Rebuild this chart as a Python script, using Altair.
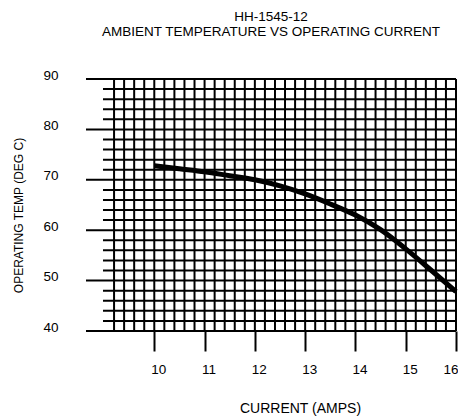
import altair as alt
import pandas as pd

# Curve data
amps = [10.0, 10.5, 11.0, 11.5, 12.0, 12.5, 13.0, 13.5, 14.0, 14.5, 15.0, 15.5, 16.0]
temps = [72.8, 72.2, 71.6, 70.8, 70.0, 68.8, 67.2, 65.2, 63.0, 60.1, 56.3, 52.1, 47.8]

# Axis ticks
x_ticks = [10, 11, 12, 13, 14, 15, 16]
y_ticks = [40, 50, 60, 70, 80, 90]

# Grid
v_grid = [round(9.2 + 0.2 * i, 2) for i in range(35)]   # 9.2 .. 16.0
h_minor = [v for v in range(42, 90, 2) if v % 10 != 0]
X_MIN, X_MAX = 8.642, 16.0
MINOR_START = 8.98
Y_MIN, Y_MAX = 40, 90

FONT = "Liberation Sans"

xs = alt.Scale(domain=[X_MIN, X_MAX], nice=False, zero=False)
ys = alt.Scale(domain=[Y_MIN, Y_MAX], nice=False, zero=False)

x_axis = alt.Axis(values=x_ticks, tickSize=20, tickWidth=2, tickColor="black",
                  domain=False, grid=False, labelPadding=11,
                  labelOffset=alt.expr("datum.value >= 16 ? 2 : 4"),
                  labelAlign=alt.expr("datum.value >= 16 ? 'right' : 'center'"),
                  labelFont=FONT, labelFontSize=13.5, labelColor="black",
                  titleFont=FONT, titleFontSize=14, titleFontWeight="normal",
                  titleColor="black", titleX=214, titleY=77,
                  titleBaseline="middle", titleAlign="center", format="d")
y_axis = alt.Axis(values=y_ticks, ticks=False, tickSize=0, domain=False, grid=False,
                  labelPadding=28, labelOffset=-4, labelFont=FONT, labelFontSize=13.5,
                  labelColor="black", titleFont=FONT, titleFontSize=12,
                  titleFontWeight="normal", titleColor="black", titleX=-68,
                  titleY=136, titleAngle=-90, titleBaseline="middle",
                  titleAlign="center", format="d")
XT = "CURRENT (AMPS)"
YT = "OPERATING TEMP (DEG C)"

vdf = pd.DataFrame({"x": v_grid, "y": [Y_MIN] * len(v_grid), "y2": [Y_MAX] * len(v_grid)})
hdf = pd.DataFrame({
    "y": y_ticks + h_minor,
    "x": [X_MIN] * len(y_ticks) + [MINOR_START] * len(h_minor),
    "x2": [X_MAX] * (len(y_ticks) + len(h_minor)),
})
cdf = pd.DataFrame({"x": amps, "y": temps})

vrules = alt.Chart(vdf).mark_rule(color="black", strokeWidth=2).encode(
    x=alt.X("x:Q", scale=xs, axis=x_axis, title=XT),
    y=alt.Y("y:Q", scale=ys, axis=y_axis, title=YT),
    y2="y2:Q",
)
hrules = alt.Chart(hdf).mark_rule(color="black", strokeWidth=2).encode(
    x=alt.X("x:Q", scale=xs, axis=x_axis, title=XT),
    x2="x2:Q",
    y=alt.Y("y:Q", scale=ys, axis=y_axis, title=YT),
)
curve = alt.Chart(cdf).mark_line(color="black", strokeWidth=5, interpolate="monotone").encode(
    x=alt.X("x:Q", scale=xs, axis=x_axis, title=XT),
    y=alt.Y("y:Q", scale=ys, axis=y_axis, title=YT),
)

chart = alt.layer(vrules, hrules, curve).properties(
    width=370,
    height=252,
    autosize=alt.AutoSizeParams(type="none"),
    padding={"left": 78, "top": 71, "right": 2, "bottom": 85},
    title=alt.TitleParams(
        text=["HH-1545-12", "AMBIENT TEMPERATURE VS OPERATING CURRENT"],
        font=FONT, fontSize=13.5, fontWeight="normal", color="black",
        anchor="middle", offset=30, lineHeight=14.5,
    ),
).configure_view(stroke=None)

chart.save("out.html", embed_options={"renderer": "svg", "actions": False})
